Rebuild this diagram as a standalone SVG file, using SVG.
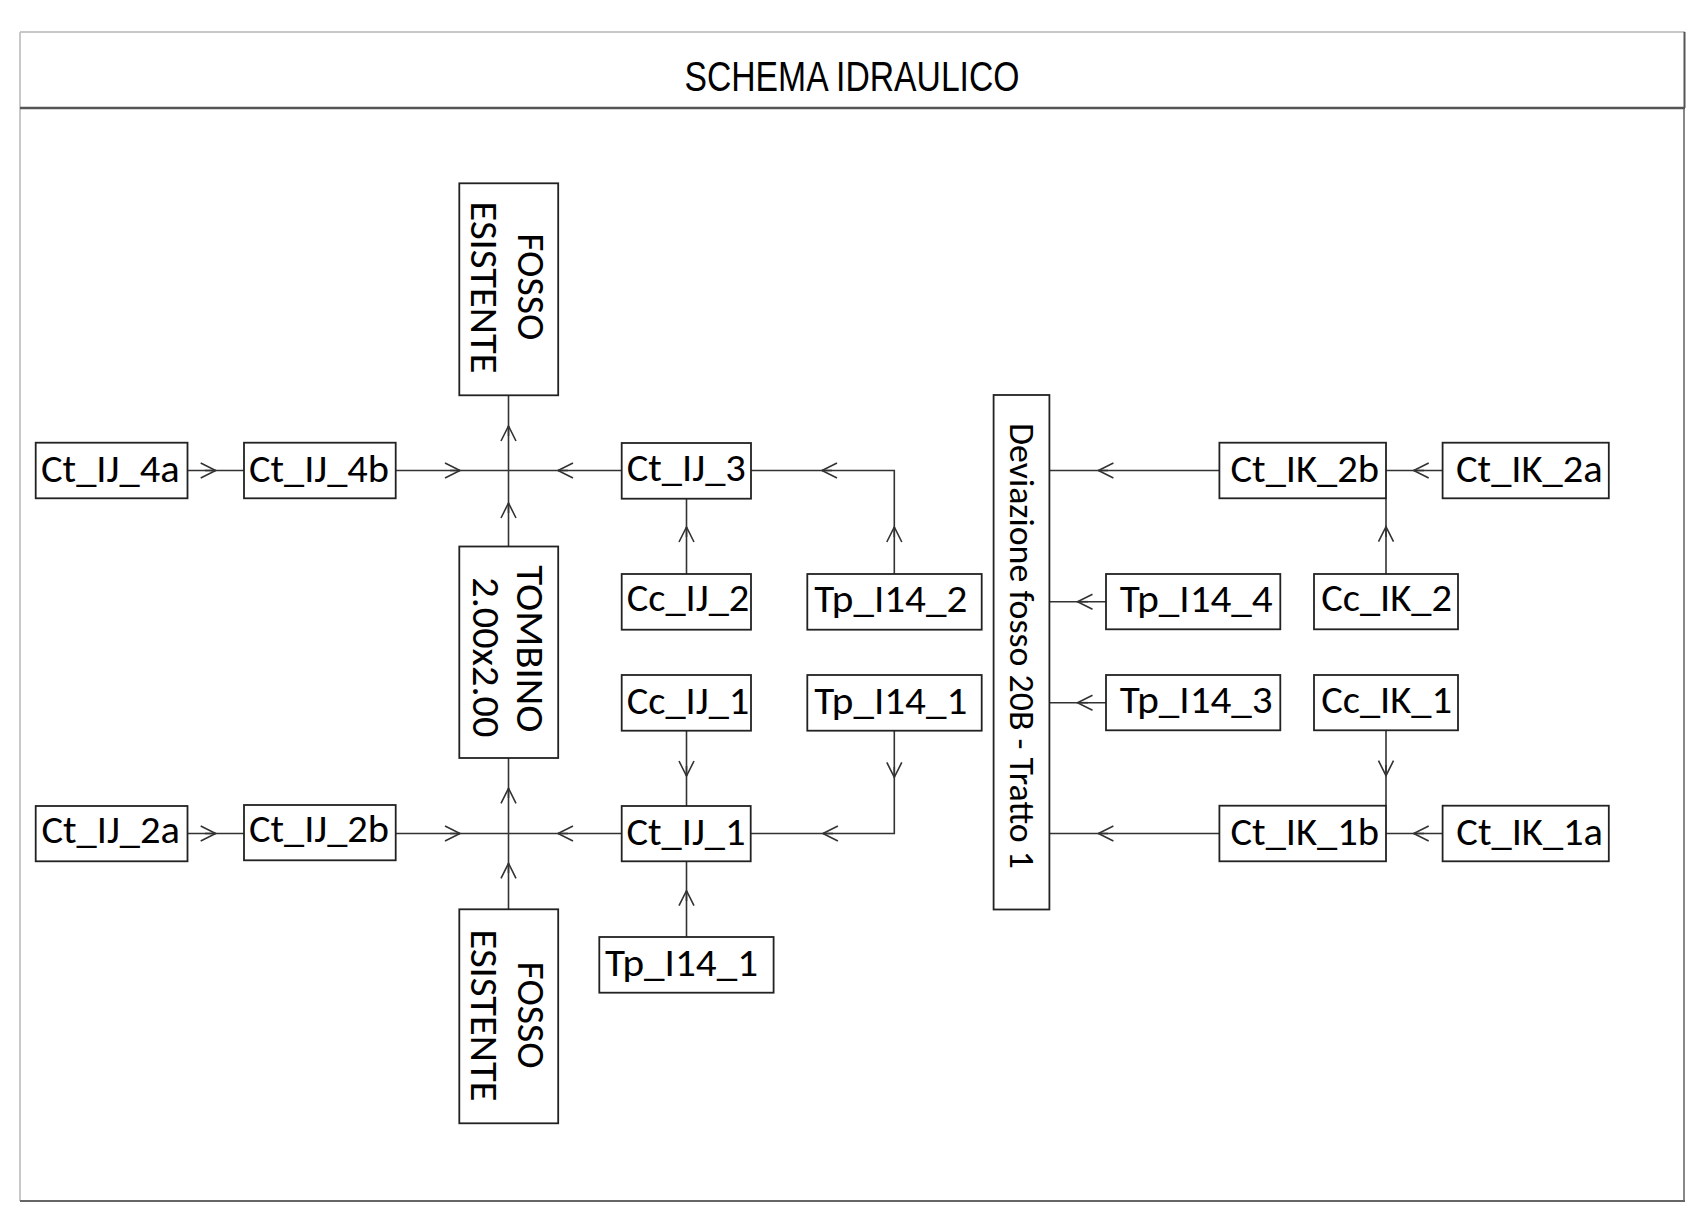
<svg xmlns="http://www.w3.org/2000/svg" width="1708" height="1210" viewBox="0 0 1708 1210">
<style>
.box{fill:#fff;stroke:#222;stroke-width:1.8}
.lbl{font-family:Carlito,Calibri,Lato,"Noto Sans",sans-serif;font-size:38px;fill:#000}
.vl{font-family:Carlito,Calibri,Lato,"Noto Sans",sans-serif;font-size:38px;fill:#000;text-anchor:middle}
.ln{fill:none;stroke:#333;stroke-width:1.6}
.ar{fill:none;stroke:#333;stroke-width:1.6;marker-end:url(#ah)}
.title{font-family:"Liberation Sans Narrow","Liberation Sans",Arial,sans-serif;font-size:43px;fill:#000;text-anchor:middle}
</style>
<defs>
<marker id="ah" markerUnits="userSpaceOnUse" markerWidth="18" markerHeight="18" refX="15" refY="7.5" orient="auto" overflow="visible">
<path d="M0,0 L15,7.5 L0,15" fill="none" stroke="#333" stroke-width="1.6"/>
</marker>
</defs>
<rect x="0" y="0" width="1708" height="1210" fill="#fff"/>
<g id="frame">
<path d="M20 32 H1685" stroke="#c8c8c8" stroke-width="2" fill="none"/>
<path d="M20 32 V1201" stroke="#c8c8c8" stroke-width="2" fill="none"/>
<path d="M1684.5 32 V108" stroke="#555" stroke-width="2" fill="none"/>
<path d="M1684 108 V1201" stroke="#888" stroke-width="2" fill="none"/>
<path d="M20 108 H1685" stroke="#555" stroke-width="2.5" fill="none"/>
<path d="M20 1201 H1685" stroke="#666" stroke-width="2" fill="none"/>
<text class="title" x="852" y="91" textLength="335" lengthAdjust="spacingAndGlyphs">SCHEMA IDRAULICO</text>
</g>
<g id="connectors">
<path class="ln" d="M187.5 470.5 H244"/><path class="ar" d="M205 470.5 H215.7"/>
<path class="ln" d="M395.7 470.5 H508.5"/><path class="ar" d="M450 470.5 H460"/>
<path class="ln" d="M621.7 470.5 H508.5"/><path class="ar" d="M568 470.5 H558"/>
<path class="ln" d="M508.5 470.5 V395.3"/><path class="ar" d="M508.5 436 V426"/>
<path class="ln" d="M508.5 546.5 V470.5"/><path class="ar" d="M508.5 513 V503"/>
<path class="ln" d="M686.5 574 V498.7"/><path class="ar" d="M686.5 537 V527"/>
<path class="ln" d="M894.3 574 V470.5 H751"/><path class="ar" d="M894.3 537 V527"/><path class="ar" d="M832 470.5 H822"/>
<path class="ln" d="M1219.4 470.5 H1049.4"/><path class="ar" d="M1108 470.5 H1098.4"/>
<path class="ln" d="M1442.6 470.5 H1386"/><path class="ar" d="M1424 470.5 H1413.7"/>
<path class="ln" d="M1386 574 V498.3"/><path class="ar" d="M1386 537 V526.7"/>
<path class="ln" d="M1106 601.7 H1049.4"/><path class="ar" d="M1088 601.7 H1077.5"/>
<path class="ln" d="M1106 702.7 H1049.4"/><path class="ar" d="M1088 702.7 H1077.5"/>
<path class="ln" d="M1386 730.3 V805.7"/><path class="ar" d="M1386 765 V775.7"/>
<path class="ln" d="M1219.4 833.5 H1049.4"/><path class="ar" d="M1108 833.5 H1098.4"/>
<path class="ln" d="M1442.6 833.5 H1386"/><path class="ar" d="M1424 833.5 H1413.7"/>
<path class="ln" d="M686.5 730.7 V806"/><path class="ar" d="M686.5 766 V776"/>
<path class="ln" d="M894.3 730.7 V833.5 H750.7"/><path class="ar" d="M894.3 767 V777.3"/><path class="ar" d="M833 833.5 H822.9"/>
<path class="ln" d="M686.5 937 V861.3"/><path class="ar" d="M686.5 901 V890.7"/>
<path class="ln" d="M622 833.5 H508.5"/><path class="ar" d="M568 833.5 H558"/>
<path class="ln" d="M187.5 833.5 H244"/><path class="ar" d="M205 833.5 H215.7"/>
<path class="ln" d="M395.7 833.5 H508.5"/><path class="ar" d="M450 833.5 H460"/>
<path class="ln" d="M508.5 833.5 V758"/><path class="ar" d="M508.5 798 V788.3"/>
<path class="ln" d="M508.5 909.3 V833.5"/><path class="ar" d="M508.5 873 V863.3"/>
</g>
<g id="fosso_top"><rect class="box" x="459.3" y="183.3" width="98.9" height="212"/>
<text class="vl" transform="translate(517.5,286.7) rotate(90)" textLength="107" lengthAdjust="spacingAndGlyphs">FOSSO</text>
<text class="vl" transform="translate(470.7,287.5) rotate(90)" textLength="172" lengthAdjust="spacingAndGlyphs">ESISTENTE</text></g>
<g id="tombino"><rect class="box" x="459.3" y="546.5" width="98.9" height="211.5"/>
<text class="vl" transform="translate(517.3,648.8) rotate(90)" textLength="167" lengthAdjust="spacingAndGlyphs">TOMBINO</text>
<text class="vl" transform="translate(472.7,657.3) rotate(90)" textLength="160" lengthAdjust="spacingAndGlyphs">2.00x2.00</text></g>
<g id="fosso_bottom"><rect class="box" x="459.3" y="909.3" width="98.9" height="214"/>
<text class="vl" transform="translate(517.5,1015) rotate(90)" textLength="107" lengthAdjust="spacingAndGlyphs">FOSSO</text>
<text class="vl" transform="translate(470.7,1015.5) rotate(90)" textLength="172" lengthAdjust="spacingAndGlyphs">ESISTENTE</text></g>
<g id="deviazione"><rect class="box" x="993.6" y="395" width="55.8" height="514.5"/>
<text class="vl" style="font-size:34px" transform="translate(1010,646) rotate(90)" textLength="446" lengthAdjust="spacingAndGlyphs">Deviazione fosso 20B - Tratto 1</text></g>
<g id="ct_ij_4a"><rect class="box" x="35.7" y="442.7" width="151.8" height="55.6"/><text class="lbl" x="41" y="481.5" textLength="138.6" lengthAdjust="spacingAndGlyphs">Ct_IJ_4a</text></g>
<g id="ct_ij_4b"><rect class="box" x="244" y="442.7" width="151.7" height="55.6"/><text class="lbl" x="249" y="481.5" textLength="140" lengthAdjust="spacingAndGlyphs">Ct_IJ_4b</text></g>
<g id="ct_ij_3"><rect class="box" x="621.7" y="443" width="129.3" height="55.7"/><text class="lbl" x="626.7" y="481.3" textLength="119.2" lengthAdjust="spacingAndGlyphs">Ct_IJ_3</text></g>
<g id="cc_ij_2"><rect class="box" x="621.7" y="574" width="129.3" height="55.7"/><text class="lbl" x="626.7" y="611" textLength="122.7" lengthAdjust="spacingAndGlyphs">Cc_IJ_2</text></g>
<g id="tp_i14_2"><rect class="box" x="807.3" y="574" width="174.4" height="55.7"/><text class="lbl" x="814.3" y="612" textLength="153" lengthAdjust="spacingAndGlyphs">Tp_I14_2</text></g>
<g id="cc_ij_1"><rect class="box" x="621.7" y="675" width="129.3" height="55.7"/><text class="lbl" x="626.7" y="713.5" textLength="122.7" lengthAdjust="spacingAndGlyphs">Cc_IJ_1</text></g>
<g id="tp_i14_1_r"><rect class="box" x="807.3" y="675" width="174.4" height="55.7"/><text class="lbl" x="814.3" y="713.5" textLength="153" lengthAdjust="spacingAndGlyphs">Tp_I14_1</text></g>
<g id="ct_ij_1"><rect class="box" x="621.7" y="806" width="129" height="55.3"/><text class="lbl" x="626.4" y="844.5" textLength="119.2" lengthAdjust="spacingAndGlyphs">Ct_IJ_1</text></g>
<g id="tp_i14_1_b"><rect class="box" x="599.3" y="937" width="174.3" height="55.7"/><text class="lbl" x="605" y="976" textLength="153" lengthAdjust="spacingAndGlyphs">Tp_I14_1</text></g>
<g id="ct_ij_2a"><rect class="box" x="35.7" y="806" width="151.8" height="55.3"/><text class="lbl" x="41.4" y="842.5" textLength="138.6" lengthAdjust="spacingAndGlyphs">Ct_IJ_2a</text></g>
<g id="ct_ij_2b"><rect class="box" x="244" y="805" width="151.7" height="55.3"/><text class="lbl" x="249" y="841.5" textLength="140" lengthAdjust="spacingAndGlyphs">Ct_IJ_2b</text></g>
<g id="ct_ik_2b"><rect class="box" x="1219.4" y="442.7" width="166.6" height="55.6"/><text class="lbl" x="1230.5" y="481.5" textLength="148.6" lengthAdjust="spacingAndGlyphs">Ct_IK_2b</text></g>
<g id="ct_ik_2a"><rect class="box" x="1442.6" y="442.7" width="166.2" height="55.6"/><text class="lbl" x="1456" y="481.5" textLength="146.7" lengthAdjust="spacingAndGlyphs">Ct_IK_2a</text></g>
<g id="tp_i14_4"><rect class="box" x="1106" y="574" width="174.3" height="55.3"/><text class="lbl" x="1119.7" y="612.3" textLength="153" lengthAdjust="spacingAndGlyphs">Tp_I14_4</text></g>
<g id="cc_ik_2"><rect class="box" x="1314" y="574" width="144" height="55.3"/><text class="lbl" x="1321.2" y="611" textLength="130.9" lengthAdjust="spacingAndGlyphs">Cc_IK_2</text></g>
<g id="tp_i14_3"><rect class="box" x="1106" y="675" width="174.3" height="55.3"/><text class="lbl" x="1119.7" y="712.5" textLength="153" lengthAdjust="spacingAndGlyphs">Tp_I14_3</text></g>
<g id="cc_ik_1"><rect class="box" x="1314" y="675" width="144" height="55.3"/><text class="lbl" x="1321.2" y="712.5" textLength="130.9" lengthAdjust="spacingAndGlyphs">Cc_IK_1</text></g>
<g id="ct_ik_1b"><rect class="box" x="1219.4" y="805.7" width="166.6" height="55.6"/><text class="lbl" x="1230.5" y="845" textLength="148.6" lengthAdjust="spacingAndGlyphs">Ct_IK_1b</text></g>
<g id="ct_ik_1a"><rect class="box" x="1442.6" y="805.7" width="166.2" height="55.6"/><text class="lbl" x="1456.3" y="845" textLength="146.7" lengthAdjust="spacingAndGlyphs">Ct_IK_1a</text></g>
</svg>
